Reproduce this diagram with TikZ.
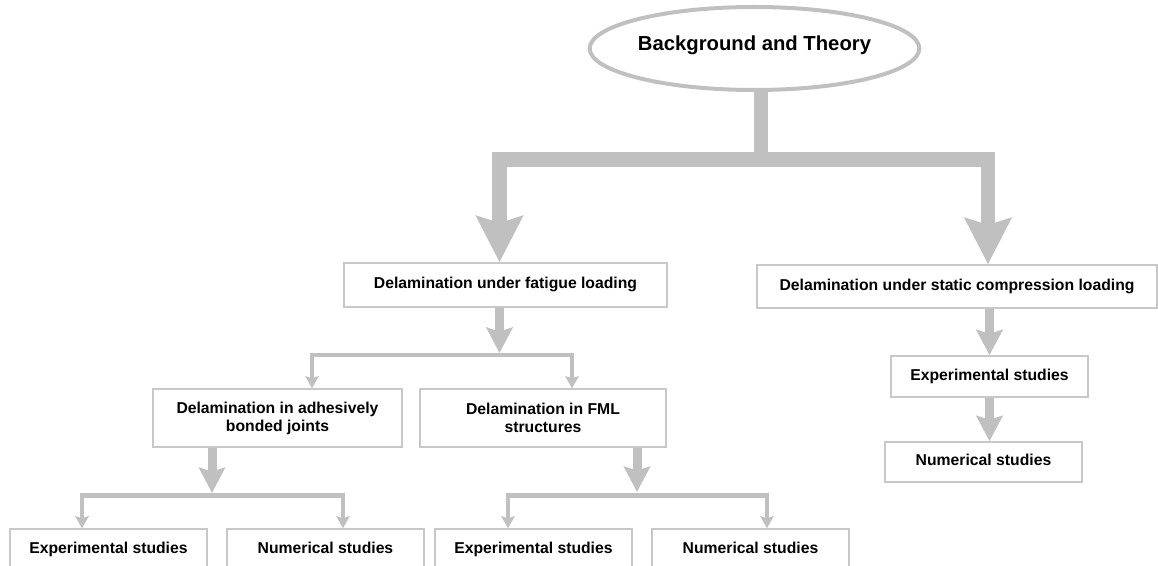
\documentclass[tikz,border=0pt]{standalone}
\usepackage{fontspec}
\setmainfont{Liberation Sans}
\usetikzlibrary{positioning,shapes.geometric,arrows.meta}
\definecolor{linegray}{RGB}{192,192,192}
\definecolor{boxgray}{RGB}{200,200,200}

\begin{document}
\begin{tikzpicture}[
    x=0.75pt,y=-0.75pt,
    font=\fontsize{11.8}{13.5}\selectfont\bfseries,
    box/.style={draw=boxgray,line width=1.1pt,fill=white,align=center,inner sep=0pt},
    onebox/.style={box,text height=8.6pt,text depth=2.6pt},
    bigarrows/.style={draw=linegray,line width=11pt,
        {Stealth[length=34.5pt,width=34.5pt,inset=5pt]}-{Stealth[length=34.5pt,width=34.5pt,inset=5pt]}},
    bigline/.style={draw=linegray,line width=11pt},
    midarrow/.style={draw=linegray,line width=6.75pt,-{Stealth[length=19pt,width=19.5pt,inset=3pt]}},
    thinarrows/.style={draw=linegray,line width=3.5pt,
        {Stealth[length=9pt,width=10pt,inset=1.5pt]}-{Stealth[length=9pt,width=10pt,inset=1.5pt]}}
]
\useasboundingbox (0,0) rectangle (1158,566);

\node[ellipse,draw=linegray,line width=3pt,inner sep=0pt,minimum width=219.75pt,minimum height=62.25pt,
    text depth=8pt,font=\fontsize{15.2}{18}\selectfont\bfseries] (bg) at (754.5,48.5) {Background and Theory};

\node[onebox,minimum width=242.25pt,minimum height=33pt] (fatigue) at (505.5,285) {Delamination under fatigue loading};
\node[onebox,minimum width=300pt,minimum height=32.25pt] (static) at (957,286.5) {Delamination under static compression loading};

\node[box,minimum width=186.75pt,minimum height=43.5pt] (adh) at (277.5,418) {Delamination in adhesively\\bonded joints};
\node[box,minimum width=184.5pt,minimum height=43.5pt] (fml) at (543,418) {Delamination in FML\\structures};

\node[onebox,minimum width=147.75pt,minimum height=31.5pt] (exp1) at (108.5,550) {Experimental studies};
\node[onebox,minimum width=147.75pt,minimum height=31.5pt] (num1) at (325.5,550) {Numerical studies};
\node[onebox,minimum width=147.75pt,minimum height=31.5pt] (exp2) at (533.5,550) {Experimental studies};
\node[onebox,minimum width=147.75pt,minimum height=31.5pt] (num2) at (750.5,550) {Numerical studies};

\node[onebox,minimum width=147.75pt,minimum height=30.75pt] (exp3) at (989.5,376.5) {Experimental studies};
\node[onebox,minimum width=147.75pt,minimum height=30pt] (num3) at (983.5,462) {Numerical studies};

% main split
\coordinate (hub) at (761,159.5);
\coordinate (bl) at (499.5,159.5);
\coordinate (br) at (988,159.5);
\draw[bigline] (hub |- bg.south) -- (hub);
\draw[bigarrows] (bl |- fatigue.north) -- (bl) -- (br) -- (br |- static.north);

% fatigue branch
\coordinate (ftip) at (499.5,353);
\coordinate (fl) at (312,355);
\coordinate (fr) at (572,355);
\draw[midarrow] (fatigue.south -| ftip) -- (ftip);
\draw[thinarrows] (fl |- adh.north) -- (fl) -- (fr) -- (fr |- fml.north);

\coordinate (atip) at (212,493);
\coordinate (al) at (82,495.5);
\coordinate (ar) at (343,495.5);
\draw[midarrow] (adh.south -| atip) -- (atip);
\draw[thinarrows] (al |- exp1.north) -- (al) -- (ar) -- (ar |- num1.north);

\coordinate (mtip) at (637,492);
\coordinate (ml) at (508,495.5);
\coordinate (mr) at (767,495.5);
\draw[midarrow] (fml.south -| mtip) -- (mtip);
\draw[thinarrows] (ml |- exp2.north) -- (ml) -- (mr) -- (mr |- num2.north);

% static branch
\draw[midarrow] (static.south -| exp3.north) -- (exp3.north);
\draw[midarrow] (exp3.south) -- (exp3.south |- num3.north);

\end{tikzpicture}
\end{document}
